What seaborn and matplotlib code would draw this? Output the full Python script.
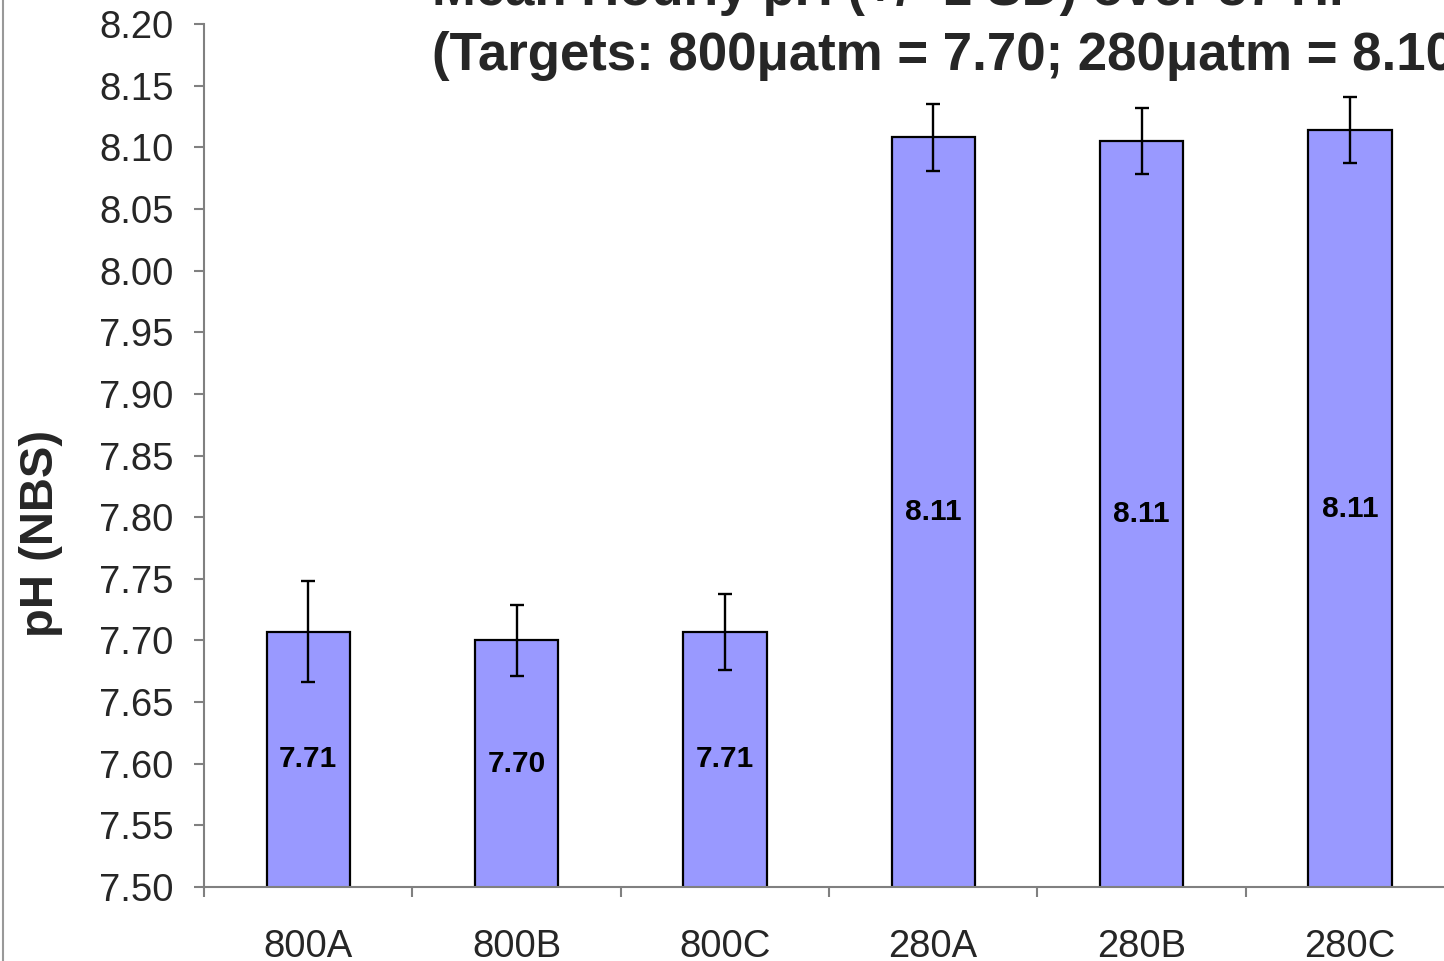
import matplotlib
matplotlib.use("Agg")
import matplotlib.pyplot as plt
from matplotlib.lines import Line2D
from matplotlib.ticker import FixedLocator, FormatStrFormatter
import numpy as np
import pandas as pd
import seaborn as sns

# Tank labels, mean hourly pH and one standard deviation
tanks = ["800A", "800B", "800C", "280A", "280B", "280C"]
mean_ph = [7.707, 7.700, 7.707, 8.108, 8.105, 8.114]
sd_ph = [0.041, 0.029, 0.031, 0.027, 0.027, 0.027]
title_line1 = "Mean Hourly pH (+/- 1 SD) over 87 Hr"
title_line2 = "(Targets: 800\u03bcatm = 7.70; 280\u03bcatm = 8.10)"
y_label = "pH (NBS)"
y_ticks = [7.50, 7.55, 7.60, 7.65, 7.70, 7.75, 7.80, 7.85, 7.90, 7.95,
           8.00, 8.05, 8.10, 8.15, 8.20]

sns.set_style("white")
plt.rcParams["font.family"] = ["Liberation Sans", "DejaVu Sans"]

W, H = 1444, 961
fig = plt.figure(figsize=(W / 100, H / 100), dpi=100)
ax = fig.add_axes([204 / W, (H - 887) / H, 1250 / W, 863 / H])

df = pd.DataFrame({"tank": tanks, "ph": mean_ph})
sns.barplot(data=df, x="tank", y="ph", color="#9999FF", saturation=1,
            edgecolor="black", linewidth=1.6, width=0.4, errorbar=None, ax=ax)

ax.errorbar(np.arange(len(tanks)), mean_ph, yerr=sd_ph, fmt="none",
            ecolor="black", elinewidth=1.7, capsize=4.7, capthick=1.7, zorder=5)

# Value labels centred inside each bar
for i, m in enumerate(mean_ph):
    ax.text(i, (7.50 + m) / 2, f"{m:.2f}", ha="center", va="center",
            fontsize=21.5, fontweight="bold", color="black")

ax.set_ylim(7.50, 8.20)
ax.set_xlim(-0.5, len(tanks) - 0.5)
ax.yaxis.set_major_locator(FixedLocator(y_ticks))
ax.yaxis.set_major_formatter(FormatStrFormatter("%.2f"))

axis_grey = "#808080"
for side in ["top", "right"]:
    ax.spines[side].set_visible(False)
for side in ["left", "bottom"]:
    ax.spines[side].set_color(axis_grey)
    ax.spines[side].set_linewidth(1.5)

ax.tick_params(axis="y", which="major", direction="out", length=7, width=1.5,
               color=axis_grey, labelsize=27.5, pad=15, left=True)
ax.tick_params(axis="x", which="major", length=0, labelsize=27.5, pad=30)
# Category separators on the x axis
ax.xaxis.set_minor_locator(FixedLocator(np.arange(-0.5, len(tanks), 1.0)))
ax.tick_params(axis="x", which="minor", direction="out", length=7, width=1.5,
               color=axis_grey, bottom=True)

ax.set_xlabel("")
ax.set_ylabel(y_label, fontsize=34, fontweight="bold")
ax.yaxis.set_label_coords(-141 / 1250, (887 - 533) / 863)

# Two-line heading
fig.text(432 / W, (H - 5) / H, title_line1, ha="left", va="baseline",
         fontsize=38, fontweight="bold")
fig.text(432 / W, (H - 70) / H, title_line2, ha="left", va="baseline",
         fontsize=38, fontweight="bold")

# Chart area border on the left
fig.add_artist(Line2D([2.5 / W, 2.5 / W], [0, 1], transform=fig.transFigure,
                      color="#999999", linewidth=1.5))

fig.savefig("out.png", dpi=100)
